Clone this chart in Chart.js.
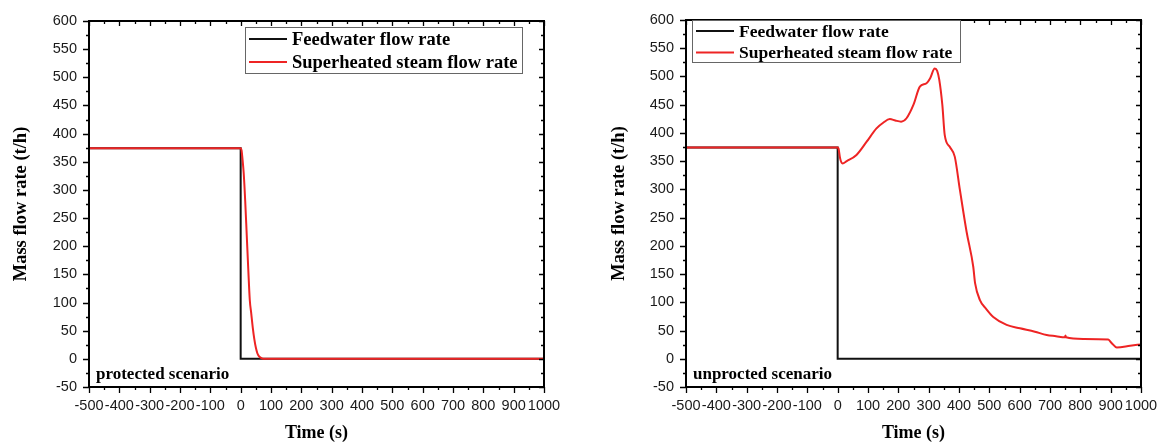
<!DOCTYPE html>
<html>
<head>
<meta charset="utf-8">
<script src="https://cdn.jsdelivr.net/npm/chart.js@4.4.1/dist/chart.umd.min.js"></script>
<style>
  body { margin: 0; background: #fff; }
  #wrap { position: relative; width: 1161px; height: 442px; }
  canvas { position: absolute; top: 0; }
</style>
</head>
<body>
<div id="wrap">
  <canvas id="protected" width="580" height="442" style="left:0"></canvas>
  <canvas id="unprotected" width="561" height="442" style="left:600px"></canvas>
</div>
<script>
// Feedwater flow (same trip at t = 0 in both runs)
const feedTime = [-500, 0, 0, 1000];
const feedFlow = [374, 374, 0, 0];

// Superheated steam flow, protected run
const protTime = [-500, 0, 3, 6, 10, 15, 20, 25, 30, 35, 40, 45, 50, 55, 60, 70, 80, 1000];
const protSteam = [374, 374, 370, 355, 330, 280, 220, 160, 105, 80, 55, 35, 20, 10, 5, 1, 0, 0];

// Superheated steam flow, unprotected run
const unprotTime = [-500, 0, 3, 8, 16, 30, 62, 95, 128, 150, 172, 190, 209, 227, 250, 271, 293, 305, 320, 328,
  335, 345, 353, 370, 386, 403, 425, 447, 453, 469, 490, 513, 557, 601, 650, 689, 720, 749, 751, 753,
  810, 892, 903, 920, 964, 1000];
const unprotSteam = [374, 374, 372, 355, 346, 350, 361, 384, 408, 418, 424.5, 422, 420, 426, 450, 482, 488, 497, 514, 510,
  494, 450, 396, 375, 358, 299, 225, 163, 134, 104, 88, 74, 60, 54, 48, 42, 40, 38, 41, 38,
  35, 34, 28, 20, 23, 25.5];

const seriesLabels = ['Feedwater flow rate', 'Superheated steam flow rate'];
const xTicks = { min: -500, max: 1000, step: 100 };
const yTicks = { min: -50, max: 600, step: 50 };

function points(xs, ys) {
  return xs.map((x, i) => ({ x: x, y: ys[i] }));
}

// box frame with outward ticks bottom/left and mirrored inward ticks top/right
const frameTicks = {
  id: 'frameTicks',
  afterDatasetsDraw(chart) {
    const { ctx, chartArea: a, scales: { x, y } } = chart;
    ctx.save();
    ctx.strokeStyle = '#000';
    ctx.lineWidth = 1.3;
    ctx.beginPath();
    for (let v = xTicks.min; v <= xTicks.max; v += xTicks.step / 2) {
      const px = Math.round(x.getPixelForValue(v)) + 0.5;
      const major = (v - xTicks.min) % xTicks.step === 0;
      ctx.moveTo(px, a.bottom); ctx.lineTo(px, a.bottom + (major ? 6 : 3));
      ctx.moveTo(px, a.top); ctx.lineTo(px, a.top + (major ? 5 : 3));
    }
    for (let v = yTicks.min; v <= yTicks.max; v += yTicks.step / 2) {
      const py = Math.round(y.getPixelForValue(v)) + 0.5;
      const major = (v - yTicks.min) % yTicks.step === 0;
      ctx.moveTo(a.left, py); ctx.lineTo(a.left - (major ? 6 : 3), py);
      ctx.moveTo(a.right, py); ctx.lineTo(a.right - (major ? 5 : 3), py);
    }
    ctx.stroke();
    ctx.lineWidth = 2;
    ctx.strokeRect(a.left, a.top, a.right - a.left, a.bottom - a.top);
    ctx.restore();
  }
};

// boxed legend inside the plot plus the scenario note
const boxLegend = {
  id: 'boxLegend',
  afterDraw(chart, args, opts) {
    const { ctx, chartArea: a } = chart;
    const bx = a.left + opts.dx, by = a.top + opts.dy;
    ctx.save();
    ctx.fillStyle = '#fff';
    ctx.fillRect(bx, by, opts.w, opts.h);
    ctx.strokeStyle = '#666';
    ctx.lineWidth = 1;
    ctx.strokeRect(bx + 0.5, by + 0.5, opts.w, opts.h);
    ctx.font = 'bold ' + opts.size + 'px "Liberation Serif"';
    ctx.textBaseline = 'middle';
    chart.data.datasets.forEach((ds, i) => {
      const cy = by + opts.rowTop + i * opts.rowGap;
      ctx.strokeStyle = ds.borderColor;
      ctx.lineWidth = 2;
      ctx.beginPath();
      ctx.moveTo(bx + 4, cy); ctx.lineTo(bx + 42, cy);
      ctx.stroke();
      ctx.fillStyle = '#000';
      ctx.fillText(ds.label, bx + 47, cy + 1);
    });
    ctx.font = 'bold 17px "Liberation Serif"';
    ctx.textBaseline = 'alphabetic';
    ctx.fillText(opts.note, a.left + 7, a.bottom - 8);
    ctx.restore();
  }
};

const tickFont = { family: '"Liberation Sans"', size: 14.5 };

function makeChart(id, time, steam, pad, yWidth, legend) {
  return new Chart(document.getElementById(id), {
    type: 'line',
    data: {
      datasets: [
        {
          label: seriesLabels[0],
          data: points(feedTime, feedFlow),
          borderColor: '#111',
          borderWidth: 2,
          pointRadius: 0,
          tension: 0,
          order: 2
        },
        {
          label: seriesLabels[1],
          data: points(time, steam),
          borderColor: '#ee2424',
          borderWidth: 2,
          pointRadius: 0,
          cubicInterpolationMode: 'monotone',
          order: 1
        }
      ]
    },
    options: {
      responsive: false,
      animation: false,
      events: [],
      layout: { padding: pad },
      plugins: {
        legend: { display: false },
        tooltip: { enabled: false },
        boxLegend: legend
      },
      scales: {
        x: {
          type: 'linear',
          min: xTicks.min,
          max: xTicks.max,
          grid: { display: false, drawTicks: false },
          border: { display: false },
          ticks: {
            stepSize: xTicks.step,
            autoSkip: false,
            maxRotation: 0,
            padding: 10,
            color: '#1a1a1a',
            font: tickFont,
            callback: v => String(v)
          },
          title: {
            display: true,
            text: 'Time (s)',
            color: '#000',
            padding: 0,
            font: { family: '"Liberation Serif"', size: 18, weight: 'bold', lineHeight: 1 }
          },
          afterFit(scale) {
            scale.height = 55;
            scale.paddingLeft = 0;
            scale.paddingRight = 0;
          }
        },
        y: {
          min: yTicks.min,
          max: yTicks.max,
          grid: { display: false, drawTicks: false },
          border: { display: false },
          ticks: {
            stepSize: yTicks.step,
            padding: 12,
            color: '#1a1a1a',
            font: tickFont,
            callback: v => String(v)
          },
          title: {
            display: true,
            text: 'Mass flow rate (t/h)',
            color: '#000',
            padding: 0,
            font: { family: '"Liberation Serif"', size: 18.5, weight: 'bold', lineHeight: 1 }
          },
          afterFit(scale) {
            scale.width = yWidth;
            scale.paddingTop = 0;
            scale.paddingBottom = 0;
          }
        }
      }
    },
    plugins: [frameTicks, boxLegend]
  });
}

makeChart('protected', protTime, protSteam,
  { left: 12, right: 36, top: 21, bottom: 0 }, 77,
  { dx: 156, dy: 6, w: 277, h: 46, size: 18.5, rowTop: 12, rowGap: 23, note: 'protected scenario' });

makeChart('unprotected', unprotTime, unprotSteam,
  { left: 10, right: 20, top: 20, bottom: 0 }, 76,
  { dx: 6, dy: 0, w: 268, h: 42, size: 17.5, rowTop: 11, rowGap: 21.5, note: 'unprocted scenario' });
</script>
</body>
</html>
